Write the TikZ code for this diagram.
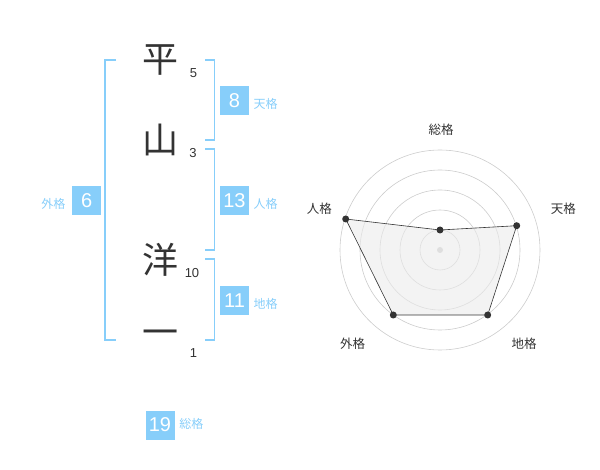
\documentclass[tikz,border=0pt]{standalone}
\usepackage{fontspec}
\setmainfont{Liberation Sans}
\newfontfamily\jp{Noto Sans CJK JP}
\definecolor{sky}{HTML}{87CEFA}
\definecolor{ink}{HTML}{333333}
\definecolor{ringc}{HTML}{CCCCCC}
\begin{document}
\begin{tikzpicture}[x=1pt,y=-1pt,
  bigchar/.style={font=\jp\fontsize{36}{36}\selectfont,text=ink,inner sep=0pt},
  strokes/.style={font=\fontsize{13}{13}\selectfont,text=ink,inner sep=0pt},
  valbox/.style={fill=sky,text=white,minimum width=29pt,minimum height=29pt,inner sep=0pt,font=\fontsize{20}{20}\selectfont},
  kaku/.style={font=\jp\fontsize{12}{12}\selectfont,text=sky,inner sep=0pt},
  bracket/.style={draw=sky,line width=1.6pt},
  ring/.style={draw=ringc,line width=0.6pt},
  axlabel/.style={font=\jp\fontsize{12.5}{12.5}\selectfont,text=ink,inner sep=0pt},
  dot/.style={circle,fill=ink,inner sep=0pt,minimum size=7pt}]
\useasboundingbox (0,0) rectangle (600,470);
% name characters
\node[bigchar] (c1) at (160,60) {平};
\node[bigchar] (c2) at (160,140) {山};
\node[bigchar] (c3) at (160,260) {洋};
\node[bigchar] (c4) at (160,338) {一};
\node[strokes] (s1) at (193.5,73.5) {5};
\node[strokes] (s2) at (193,153.5) {3};
\node[strokes] (s3) at (192,273.5) {10};
\node[strokes] (s4) at (193.5,353.5) {1};
% brackets
\draw[bracket] (116,60) -- (105,60) -- (105,340) -- (116,340);
\draw[bracket] (205,60) -- (214.3,60) -- (214.3,140) -- (205,140);
\draw[bracket] (205,149.3) -- (214.3,149.3) -- (214.3,250) -- (205,250);
\draw[bracket] (205,259.3) -- (214.3,259.3) -- (214.3,340) -- (205,340);
% value boxes
\node[valbox] (b1) at (234.5,100.5) {8};
\node[kaku] (k1) at (265.7,104) {天格};
\node[valbox] (b2) at (234.5,200.5) {13};
\node[kaku] (k2) at (265.7,204) {人格};
\node[valbox] (b3) at (234.5,300.5) {11};
\node[kaku] (k3) at (265.7,304) {地格};
\node[valbox] (b4) at (86.7,200.5) {6};
\node[kaku] (k4) at (53.3,204) {外格};
\node[valbox] (b5) at (160,425) {19};
\node[kaku] (k5) at (191.3,423.5) {総格};
% radar
\coordinate (o) at (440,250);
\foreach \r in {20,40,60,80,100} \draw[ring] (o) circle (\r);
\fill[ringc] (o) circle (3);
\coordinate (p1) at (440,230);
\coordinate (p2) at (516.7,225.7);
\coordinate (p3) at (487.7,315);
\coordinate (p4) at (393.3,315);
\coordinate (p5) at (345.7,219);
\filldraw[fill=black!8,fill opacity=0.6,draw=ink,line width=0.6pt] (p1) -- (p2) -- (p3) -- (p4) -- (p5) -- cycle;
\foreach \p in {p1,p2,p3,p4,p5} \node[dot] at (\p) {};
\node[axlabel] (l1) at (441,130) {総格};
\node[axlabel] (l2) at (563.3,208.3) {天格};
\node[axlabel] (l3) at (524,343.3) {地格};
\node[axlabel] (l4) at (352.7,343.3) {外格};
\node[axlabel] (l5) at (319.3,208.3) {人格};
\end{tikzpicture}
\end{document}
